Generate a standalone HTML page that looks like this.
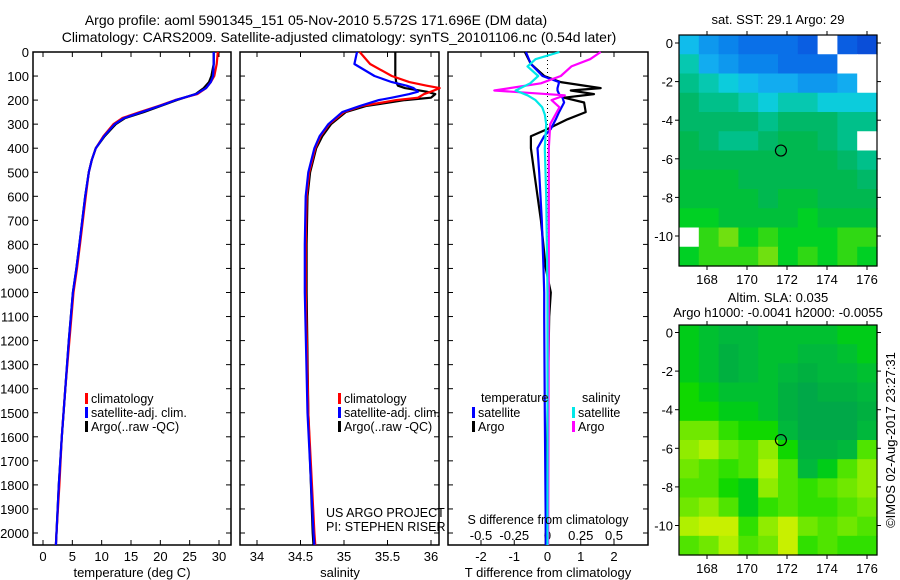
<!DOCTYPE html>
<html><head><meta charset="utf-8">
<style>
body{margin:0;background:#fff;}
svg{display:block;font-family:"Liberation Sans",sans-serif;}
text{fill:#000;}
</style></head>
<body>
<svg id="chart" width="900" height="580" viewBox="0 0 900 580" xmlns="http://www.w3.org/2000/svg">
<text x="316" y="25" font-size="14" text-anchor="middle">Argo profile: aoml 5901345_151 05-Nov-2010 5.572S 171.696E (DM data)</text>
<text x="339" y="42" font-size="14" text-anchor="middle">Climatology: CARS2009. Satellite-adjusted climatology: synTS_20101106.nc (0.54d later)</text>
<g id="g1"></g>
<g id="g2"></g>
<g id="g3"></g>
<g id="m1"></g>
<g id="m2"></g>
<text x="778" y="24" font-size="13" text-anchor="middle">sat. SST: 29.1  Argo: 29</text>
<text x="778" y="302" font-size="13" text-anchor="middle">Altim. SLA: 0.035</text>
<text x="778" y="317" font-size="13" text-anchor="middle">Argo h1000: -0.0041 h2000: -0.0055</text>
<text x="0" y="0" font-size="13" text-anchor="middle" transform="translate(895,440) rotate(-90)">©IMOS 02-Aug-2017 23:27:31</text>
<text x="326" y="517" font-size="12.5">US ARGO PROJECT</text>
<text x="326" y="531" font-size="12.5">PI: STEPHEN RISER</text>
</svg>
<script>
// ---------- profile data ----------
const tDepth=[0,50,100,125,150,175,200,225,250,275,300,350,400,450,500,600,700,800,900,1000,1200,1400,1600,1800,2000,2050];
const tArgo =[29.1,29.1,28.7,28.3,27.4,26.0,22.8,20.0,17.2,14.0,12.4,10.5,9.0,8.3,7.8,7.2,6.7,6.2,5.7,5.1,4.4,3.8,3.2,2.7,2.3,2.2];
const tClim =[29.8,29.6,29.2,28.6,27.8,26.3,22.5,19.6,16.5,13.5,12.0,10.3,9.0,8.3,7.8,7.3,6.8,6.3,5.8,5.2,4.5,3.8,3.2,2.8,2.3,2.2];
const tSat  =[29.1,29.1,29.0,28.6,27.8,26.1,22.6,19.8,16.8,13.8,12.2,10.4,9.0,8.3,7.8,7.2,6.7,6.2,5.7,5.1,4.4,3.8,3.2,2.7,2.3,2.2];
const sDepth=[0,50,100,125,140,150,165,175,190,200,225,250,300,350,400,500,600,800,1000,1500,2000,2050];
const sArgo =[35.59,35.59,35.59,35.60,35.62,35.70,35.95,36.05,36.0,35.7,35.25,35.02,34.85,34.75,34.68,34.61,34.58,34.57,34.57,34.59,34.64,34.65];
const sClim =[35.18,35.30,35.55,35.75,35.95,36.1,36.0,35.92,35.85,35.6,35.2,35.0,34.83,34.73,34.67,34.60,34.57,34.56,34.56,34.59,34.66,34.67];
const sSat  =[35.15,35.12,35.35,35.55,35.72,35.80,35.85,35.75,35.55,35.40,35.18,34.98,34.82,34.72,34.66,34.59,34.56,34.55,34.55,34.58,34.65,34.66];
const dtDepth=[0,50,100,125,150,160,175,190,210,250,280,320,350,400,500,700,900,1000,1100,1500,2000,2050];
const dtArgo =[-0.68,-0.5,-0.1,0.4,1.6,0.7,1.4,0.5,1.1,1.15,0.6,0.0,-0.5,-0.5,-0.4,-0.2,-0.05,0.1,0.05,0.0,-0.05,-0.05];
const dtSat  =[-0.65,-0.5,-0.15,0.35,0.3,0.3,0.35,0.45,0.5,0.35,0.25,0.1,-0.1,-0.3,-0.25,-0.17,-0.12,-0.1,-0.1,-0.08,-0.05,-0.05];
const dsDepth=[0,30,60,100,130,160,180,200,230,260,300,400,600,1000,2000,2050];
const dsSat  =[0.09,-0.09,-0.15,-0.07,-0.13,-0.24,-0.15,-0.09,-0.04,-0.02,-0.01,-0.02,-0.01,0.0,0.0,0.0];
const dsArgo =[0.4,0.32,0.18,0.1,-0.05,-0.4,0.13,0.03,0.09,0.06,0.02,0.01,0.01,0.01,0.005,0.005];
const depthTicks=[0,100,200,300,400,500,600,700,800,900,1000,1100,1200,1300,1400,1500,1600,1700,1800,1900,2000];
const tTicks=[0,5,10,15,20,25,30];
const sTicks=[34,34.5,35,35.5,36];
const dtTicks=[-2,-1,0,1,2];
const dsTicks=[-0.5,-0.25,0,0.25,0.5];
const dsTickLabels=["-0.5","-0.25","0","0.25","0.5"];
// ---------- map data ----------
const lonTicks=[168,170,172,174,176];
const latTicks=[0,-2,-4,-6,-8,-10];
const N=NaN;
const sstGrid=[
[29.0,28.8,28.7,28.6,28.6,28.6,28.5,N,28.5,28.4],
[29.2,28.9,28.8,28.7,28.7,28.6,28.6,28.6,N,N],
[29.3,29.2,29.1,29.0,28.9,28.9,28.8,28.8,28.9,N],
[29.4,29.3,29.3,29.2,29.1,29.2,29.2,29.1,29.1,29.1],
[29.4,29.4,29.4,29.4,29.3,29.4,29.4,29.4,29.3,29.3],
[29.5,29.4,29.3,29.3,29.4,29.5,29.5,29.4,29.3,N],
[29.5,29.5,29.5,29.5,29.5,29.5,29.5,29.5,29.4,29.3],
[29.6,29.6,29.6,29.5,29.5,29.5,29.5,29.5,29.5,29.4],
[29.6,29.6,29.6,29.6,29.5,29.6,29.6,29.5,29.5,29.5],
[29.7,29.7,29.6,29.6,29.6,29.6,29.7,29.6,29.6,29.6],
[N,29.8,29.9,29.7,29.8,29.7,29.7,29.7,29.8,29.8],
[29.7,29.8,29.8,29.8,29.9,29.7,29.8,29.7,29.8,29.7]];
const slaGrid=[
[0.02,0.01,0,0,0.01,0.01,0.01,0.01,0.02,0.02],
[0.02,0.01,-0.01,0,0.01,0.01,0,0,0.01,0.02],
[0.02,0.01,-0.01,0,0.01,0,-0.01,0,0,0.01],
[0.03,0.02,0.01,0.01,0.01,-0.01,-0.02,-0.01,-0.01,0],
[0.03,0.03,0.02,0.02,0.01,-0.01,-0.02,-0.02,-0.02,-0.01],
[0.06,0.06,0.04,0.03,0.03,0,-0.02,-0.02,-0.02,0],
[0.07,0.08,0.06,0.05,0.07,0.03,-0.01,-0.01,0.0,0.05],
[0.06,0.05,0.04,0.05,0.08,0.05,0.0,0.02,0.05,0.07],
[0.05,0.05,0.03,0.02,0.07,0.05,0.04,0.05,0.06,0.07],
[0.06,0.07,0.05,0.02,0.04,0.05,0.04,0.04,0.05,0.06],
[0.08,0.09,0.09,0.04,0.07,0.09,0.06,0.05,0.06,0.05],
[0.05,0.06,0.08,0.05,0.06,0.09,0.04,0.05,0.04,0.04]];
const floatLon=171.696, floatLat=-5.572;

const NS='http://www.w3.org/2000/svg';
function mk(parent,tag,attrs,txt){const e=document.createElementNS(NS,tag);for(const k in attrs)e.setAttribute(k,attrs[k]);if(txt!==undefined)e.textContent=txt;parent.appendChild(e);return e;}
const top0=52, bot0=545;
const yD=d=>top0+d*(533-top0)/2000;

function panel(g,x0,x1){
  const fr=mk(g,'rect',{x:x0,y:top0,width:x1-x0,height:bot0-top0,fill:'none',stroke:'#000','stroke-width':1.5});
  
  
  depthTicks.forEach(d=>{
    const y=yD(d);
    const t1=mk(g,'line',{x1:x0,x2:x0+5,y1:y,y2:y,stroke:'#000'});
    
    
    const t2=mk(g,'line',{x1:x1-5,x2:x1,y1:y,y2:y,stroke:'#000'});
    
    
  });
}
function xticks(g,ticks,labels,xf,yLab){
  ticks.forEach((v,i)=>{
    const x=xf(v);
    const a=mk(g,'line',{x1:x,x2:x,y1:top0,y2:top0+5,stroke:'#000'});
    
    
    const b=mk(g,'line',{x1:x,x2:x,y1:bot0-5,y2:bot0,stroke:'#000'});
    
    
    const t=mk(g,'text',{x:x,y:yLab,'font-size':13,'text-anchor':'middle'},labels[i]);
    
    
  });
}
function line(g,xs,ds,xf,col,name){
  const pts=xs.map((v,i)=>xf(v).toFixed(1)+','+yD(ds[i]).toFixed(1)).join(' ');
  const p=mk(g,'polyline',{points:pts,fill:'none',stroke:col,'stroke-width':2.2,'stroke-linejoin':'round'});
  
  
}
function legend(g,x,y,col,label){
  const r=mk(g,'rect',{x:x,y:y-9,width:3,height:11,fill:col});
  
  
  const t=mk(g,'text',{x:x+6,y:y+1,'font-size':12.5},label);
  
  
}

// Panel 1: temperature
const g1=document.getElementById('g1');
const xT=v=>43+v*(219-43)/30;
panel(g1,33,231);
depthTicks.forEach(d=>{const t=mk(g1,'text',{x:29,y:yD(d)+5,'font-size':13,'text-anchor':'end'},String(d));

});
xticks(g1,tTicks,tTicks.map(String),xT,561);
line(g1,tArgo,tDepth,xT,'#000','temp-argo-line');
line(g1,tClim,tDepth,xT,'#ff0000','temp-climatology-line');
line(g1,tSat,tDepth,xT,'#0000ff','temp-satellite-line');
legend(g1,85,402,'#ff0000','climatology');
legend(g1,85,416,'#0000ff','satellite-adj. clim.');
legend(g1,85,430,'#000','Argo(..raw -QC)');
const xl1=mk(g1,'text',{x:132,y:577,'font-size':13,'text-anchor':'middle'},'temperature (deg C)');



// Panel 2: salinity
const g2=document.getElementById('g2');
const xS=v=>257+(v-34)*(431-257)/2;
panel(g2,240,439);
xticks(g2,sTicks,sTicks.map(String),xS,561);
line(g2,sArgo,sDepth,xS,'#000','sal-argo-line');
line(g2,sClim,sDepth,xS,'#ff0000','sal-climatology-line');
line(g2,sSat,sDepth,xS,'#0000ff','sal-satellite-line');
legend(g2,338,402,'#ff0000','climatology');
legend(g2,338,416,'#0000ff','satellite-adj. clim.');
legend(g2,338,430,'#000','Argo(..raw -QC)');
const xl2=mk(g2,'text',{x:340,y:577,'font-size':13,'text-anchor':'middle'},'salinity');



// Panel 3: differences
const g3=document.getElementById('g3');
const xDT=v=>547.5+v*(614-547.5)/2;
const xDS=v=>547.5+v*(614-547.5)/0.5;
panel(g3,448,648);
xticks(g3,dtTicks,dtTicks.map(String),xDT,561);
dsTicks.forEach((v,i)=>{const t=mk(g3,'text',{x:xDS(v),y:540,'font-size':13,'text-anchor':'middle'},dsTickLabels[i]);

});
const zl=mk(g3,'line',{x1:xDT(0),x2:xDT(0),y1:top0,y2:bot0,stroke:'#000','stroke-dasharray':'1,3'});


line(g3,dtArgo,dtDepth,xDT,'#000','tdiff-argo-line');
line(g3,dtSat,dtDepth,xDT,'#0000ff','tdiff-satellite-line');
line(g3,dsArgo,dsDepth,xDS,'#ff00ff','sdiff-argo-line');
line(g3,dsSat,dsDepth,xDS,'#00e8e8','sdiff-satellite-line');
const lt=mk(g3,'text',{x:481,y:402,'font-size':12.5},'temperature');


const ls=mk(g3,'text',{x:582,y:402,'font-size':12.5},'salinity');


legend(g3,472,416,'#0000ff','satellite');
legend(g3,472,430,'#000','Argo');
legend(g3,572,416,'#00e8e8','satellite');
legend(g3,572,430,'#ff00ff','Argo');
const sdt=mk(g3,'text',{x:548,y:524,'font-size':12.5,'text-anchor':'middle'},'S difference from climatology');


const tdt=mk(g3,'text',{x:548,y:577,'font-size':13,'text-anchor':'middle'},'T difference from climatology');



// Maps
const sstStops=[[28.4,'#0a4ed8'],[28.5,'#0a5ee2'],[28.6,'#0a70e8'],[28.7,'#0a84ec'],[28.8,'#0e98ee'],[28.9,'#12acf0'],[29.0,'#10bcec'],[29.1,'#0cccdc'],[29.2,'#06c8b0'],[29.3,'#00c08a'],[29.4,'#00b868'],[29.5,'#00b850'],[29.6,'#00c03a'],[29.7,'#00d024'],[29.8,'#30d814'],[29.9,'#70e010']];
const slaStops=[[-0.02,'#00a848'],[-0.01,'#00b040'],[0.0,'#00b83c'],[0.01,'#00c030'],[0.02,'#00cc18'],[0.03,'#10d800'],[0.04,'#30e000'],[0.05,'#50e400'],[0.06,'#70e800'],[0.07,'#90ec00'],[0.08,'#b0f000'],[0.09,'#c8f000'],[0.1,'#d8f000']];
function cmap(stops,v){if(isNaN(v))return '#ffffff';let c=stops[0][1];for(const s of stops){if(v>=s[0]-1e-9)c=s[1];}return c;}
function drawMap(id,x0,y0,x1,y1,lat0y,grid,stops){
  const g=document.getElementById(id);
  const lonX=lon=>707+(lon-168)*20;
  const rows=grid.length, cols=grid[0].length;
  const cw=(x1-x0)/cols, ch=(y1-y0)/rows;
  grid.forEach((row,r)=>row.forEach((v,c)=>{
    const cell=mk(g,'rect',{x:(x0+c*cw).toFixed(2),y:(y0+r*ch).toFixed(2),width:(cw+0.6).toFixed(2),height:(ch+0.6).toFixed(2),fill:cmap(stops,v)});
    
    
  }));
  const fr=mk(g,'rect',{x:x0,y:y0,width:x1-x0,height:y1-y0,fill:'none',stroke:'#000','stroke-width':1.2});
  
  
  lonTicks.forEach(l=>{
    const x=lonX(l);
    const a=mk(g,'line',{x1:x,x2:x,y1:y0-4,y2:y0,stroke:'#000'});
    
    
    const b=mk(g,'line',{x1:x,x2:x,y1:y1,y2:y1+4,stroke:'#000'});
    
    
    const t=mk(g,'text',{x:x,y:y1+18,'font-size':13,'text-anchor':'middle'},String(l));
    
    
  });
  latTicks.forEach(l=>{
    const yy=lat0y+(-l)*19.3;
    const a=mk(g,'line',{x1:x0-4,x2:x0,y1:yy,y2:yy,stroke:'#000'});
    
    
    const b=mk(g,'line',{x1:x1,x2:x1+4,y1:yy,y2:yy,stroke:'#000'});
    
    
    const t=mk(g,'text',{x:x0-6,y:yy+5,'font-size':13,'text-anchor':'end'},String(l));
    
    
  });
  const c=mk(g,'circle',{cx:lonX(floatLon),cy:lat0y+(-floatLat)*19.3,r:5.5,fill:'none',stroke:'#000','stroke-width':1.2});
  
  
}
drawMap('m1',679,35,877,266,43,sstGrid,sstStops);
drawMap('m2',679,325,877,555,332.5,slaGrid,slaStops);
</script>
</body></html>
